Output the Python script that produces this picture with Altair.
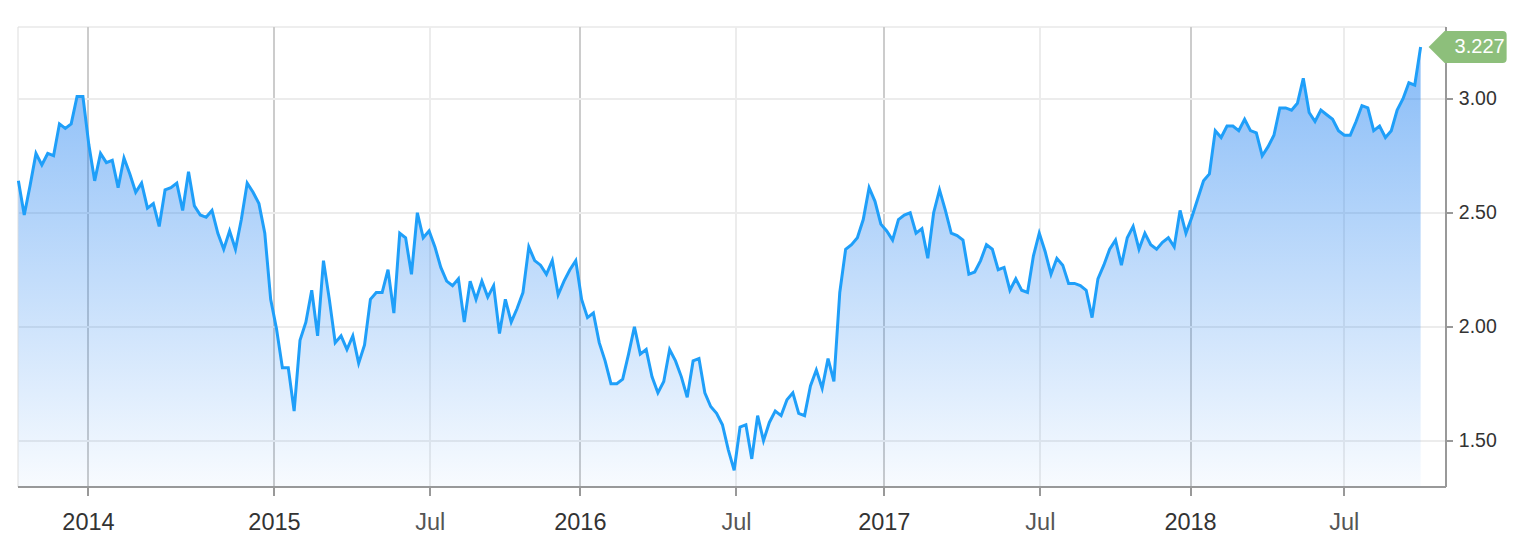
import json
import altair as alt
import pandas as pd

# Weekly values, split by calendar segment
vals_2013 = [2.64, 2.49, 2.62, 2.76, 2.71, 2.76, 2.75, 2.89, 2.87, 2.89, 3.01, 3.01]
vals_2014 = [2.80, 2.64, 2.76, 2.72, 2.73, 2.61, 2.74, 2.67, 2.59, 2.63, 2.52, 2.54,
             2.44, 2.60, 2.61, 2.63, 2.51, 2.68, 2.53, 2.49, 2.48, 2.51, 2.41, 2.34,
             2.42, 2.34, 2.47, 2.63, 2.59, 2.54, 2.41]
vals_2015 = [2.12, 1.99, 1.82, 1.82, 1.63, 1.94, 2.02, 2.16, 1.96, 2.29, 2.12, 1.93,
             1.96, 1.90, 1.96, 1.84, 1.92, 2.12, 2.15, 2.15, 2.25, 2.06, 2.41, 2.39,
             2.23, 2.50, 2.39, 2.42, 2.35, 2.26, 2.20, 2.18, 2.21, 2.02, 2.20, 2.12,
             2.20, 2.13, 2.18, 1.97, 2.12, 2.02, 2.08, 2.15, 2.35, 2.29, 2.27, 2.23,
             2.29, 2.14, 2.20, 2.25, 2.29]
vals_2016 = [2.12, 2.04, 2.06, 1.93, 1.85, 1.75, 1.75, 1.77, 1.88, 2.00, 1.88, 1.90,
             1.78, 1.71, 1.76, 1.90, 1.85, 1.78, 1.69, 1.85, 1.86, 1.71, 1.65, 1.62,
             1.57, 1.46, 1.37, 1.56, 1.57, 1.42, 1.61, 1.50, 1.58, 1.63, 1.61, 1.68,
             1.71, 1.62, 1.61, 1.74, 1.81, 1.73, 1.86, 1.76, 2.15, 2.34, 2.36, 2.39,
             2.47, 2.61, 2.55, 2.45]
vals_2017 = [2.42, 2.38, 2.47, 2.49, 2.50, 2.41, 2.43, 2.30, 2.50, 2.60, 2.51, 2.41,
             2.40, 2.38, 2.23, 2.24, 2.29, 2.36, 2.34, 2.25, 2.26, 2.16, 2.21, 2.16,
             2.15, 2.31, 2.41, 2.33, 2.23, 2.30, 2.27, 2.19, 2.19, 2.18, 2.16, 2.04,
             2.21, 2.27, 2.34, 2.38, 2.27, 2.39, 2.44, 2.34, 2.41, 2.36, 2.34, 2.37,
             2.39, 2.35, 2.51, 2.41]
vals_2018 = [2.48, 2.56, 2.64, 2.67, 2.86, 2.83, 2.88, 2.88, 2.86, 2.91, 2.86, 2.85,
             2.75, 2.79, 2.84, 2.96, 2.96, 2.95, 2.98, 3.09, 2.94, 2.90, 2.95, 2.93,
             2.91, 2.86, 2.84, 2.84, 2.90, 2.97, 2.96, 2.86, 2.88, 2.83, 2.86, 2.95,
             3.00, 3.07, 3.06, 3.227]

# Axis ticks (positions in point-index units) and their labels
tick_pos = [11.86, 43.56, 70.1, 95.7, 122.3, 147.5, 174.1, 199.7, 225.9]
tick_labels = ["2014", "2015", "Jul", "2016", "Jul", "2017", "Jul", "2018", "Jul"]
y_ticks = [1.5, 2.0, 2.5, 3.0]
x_domain = [-0.15, 243.24]
y_domain = [1.299, 3.317]

values = vals_2013 + vals_2014 + vals_2015 + vals_2016 + vals_2017 + vals_2018
df = pd.DataFrame({"idx": list(range(len(values))), "value": values})
last = df.tail(1)

FONT = "Liberation Sans"
LINE_COLOR = "#1f9ff9"
BADGE_COLOR = "#8dbf7b"
BADGE_PATH = "M8,0 L24,-16 L82,-16 Q86,-16 86,-12 L86,12 Q86,16 82,16 L24,16 Z"

jul_pos = [p for p, l in zip(tick_pos, tick_labels) if l == "Jul"]
is_jul = f"indexof({json.dumps(jul_pos)}, datum.value) >= 0"
label_expr = f"{json.dumps(tick_labels)}[indexof({json.dumps(tick_pos)}, datum.value)]"

x = alt.X(
    "idx:Q",
    scale=alt.Scale(domain=x_domain, nice=False, zero=False),
    axis=alt.Axis(
        values=tick_pos, labelExpr=label_expr, title=None,
        grid=True, gridWidth=2,
        gridColor={"condition": {"test": is_jul, "value": "#ececec"}, "value": "#cccccc"},
        labelColor={"condition": {"test": is_jul, "value": "#555555"}, "value": "#333333"},
        labelFont=FONT, labelFontSize=23.5, labelPadding=15,
        labelFlush=False, labelOverlap=False,
        tickSize=9, tickWidth=2, tickColor="#999999",
        domainColor="#999999", domainWidth=2,
    ),
)
y = alt.Y(
    "value:Q",
    scale=alt.Scale(domain=y_domain, nice=False, zero=False),
    axis=alt.Axis(
        orient="right", values=y_ticks, format=".2f", title=None,
        grid=True, gridColor="#ececec", gridWidth=2,
        labelFont=FONT, labelFontSize=19.5, labelColor="#333333", labelPadding=5.8,
        tickSize=7, tickWidth=2, tickColor="#999999",
        domainColor="#999999", domainWidth=2,
    ),
)

area = alt.Chart(df).mark_area(
    interpolate="linear",
    color=alt.Gradient(
        gradient="linear",
        stops=[
            alt.GradientStop(color="rgba(25,125,240,0.52)", offset=0),
            alt.GradientStop(color="rgba(25,125,240,0.03)", offset=1),
        ],
        x1=1, x2=1, y1=0, y2=1,
    ),
).encode(x=x, y=y, y2=alt.datum(y_domain[0]))

line = alt.Chart(df).mark_line(color=LINE_COLOR, strokeWidth=3, interpolate="linear").encode(x=x, y=y)

badge = alt.Chart(last).mark_point(
    shape=BADGE_PATH, size=4, filled=True, fill=BADGE_COLOR, opacity=1, strokeWidth=0
).encode(x=x, y=y)

badge_text = alt.Chart(last).mark_text(
    dx=59, fontSize=20, color="white", font=FONT, align="center", baseline="middle"
).encode(x=x, y=y, text=alt.Text("value:Q", format=".3f"))

chart = alt.layer(area, line, badge, badge_text).properties(
    width=1428,
    height=460,
    autosize=alt.AutoSizeParams(type="none"),
    padding={"left": 9.5, "top": 18.5, "right": 62, "bottom": 50.5},
).configure_view(
    stroke="#7d7d7d", strokeWidth=2
).configure(font=FONT)

chart.save("out.html", embed_options={"renderer": "svg", "actions": False})
